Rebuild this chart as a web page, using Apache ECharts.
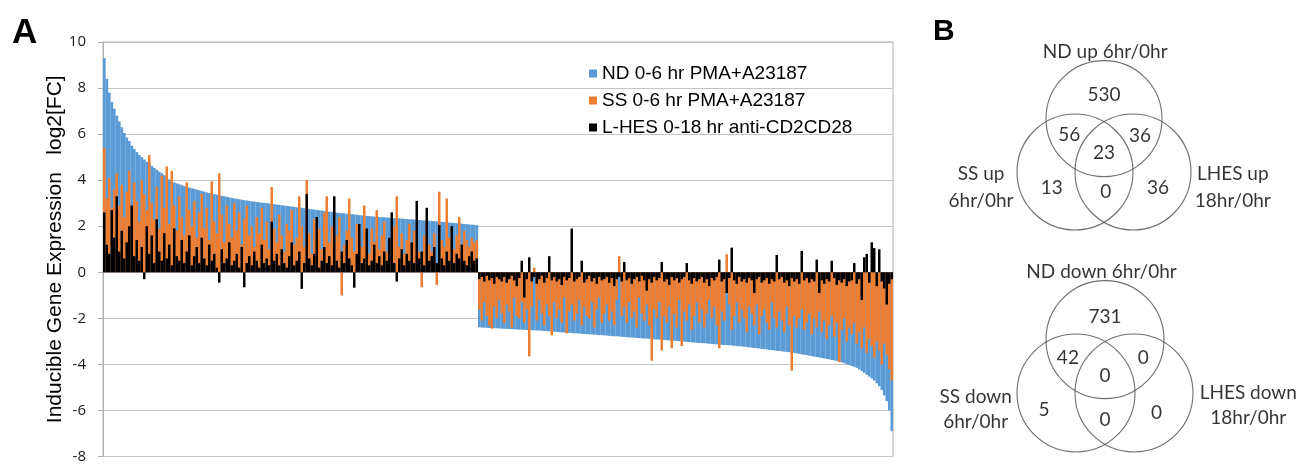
<!DOCTYPE html>
<html><head><meta charset="utf-8">
<script src="https://cdn.jsdelivr.net/npm/echarts@6/dist/echarts.min.js"></script>
<style>html,body{margin:0;padding:0;background:#fff}#c{width:1303px;height:464px}</style>
</head><body><div id="c"></div>
<script>
// ---------- Panel A data (genes sorted by ND fold change; each bar = a group of genes) ----------
const seriesNames = ['ND 0-6 hr PMA+A23187', 'SS 0-6 hr PMA+A23187', 'L-HES 0-18 hr anti-CD2CD28'];
const yTicks = [-8, -6, -4, -2, 0, 2, 4, 6, 8, 10];

const ndUp = [
9.3, 8.4, 7.8, 7.4, 7.1, 6.8, 6.55, 6.3, 6.05, 5.85,
5.7, 5.5, 5.35, 5.22, 5.1, 5.0, 4.9, 4.8, 4.72, 4.62,
4.53, 4.45, 4.37, 4.3, 4.22, 4.12, 4.03, 3.96, 3.9, 3.86,
3.82, 3.78, 3.74, 3.71, 3.68, 3.65, 3.62, 3.59, 3.56, 3.53,
3.5, 3.47, 3.44, 3.42, 3.39, 3.37, 3.34, 3.32, 3.3, 3.28,
3.25, 3.23, 3.21, 3.19, 3.17, 3.15, 3.13, 3.12, 3.1, 3.08,
3.07, 3.05, 3.04, 3.02, 3.01, 3.0, 2.99, 2.97, 2.96, 2.94,
2.93, 2.91, 2.9, 2.88, 2.87, 2.85, 2.84, 2.82, 2.81, 2.8,
2.78, 2.77, 2.75, 2.74, 2.72, 2.71, 2.69, 2.68, 2.66, 2.65,
2.63, 2.62, 2.6, 2.59, 2.58, 2.57, 2.56, 2.54, 2.53, 2.52,
2.51, 2.5, 2.48, 2.47, 2.46, 2.45, 2.44, 2.43, 2.42, 2.41,
2.4, 2.39, 2.39, 2.38, 2.37, 2.36, 2.35, 2.35, 2.34, 2.33,
2.32, 2.31, 2.3, 2.3, 2.29, 2.28, 2.27, 2.26, 2.25, 2.24,
2.24, 2.23, 2.22, 2.21, 2.2, 2.19, 2.18, 2.17, 2.16, 2.15,
2.14, 2.13, 2.12, 2.11, 2.1, 2.09, 2.08, 2.07, 2.06, 2.05
];
const ndDown = [
-2.39, -2.40, -2.40, -2.41, -2.42, -2.42, -2.43, -2.43, -2.44, -2.45,
-2.45, -2.46, -2.46, -2.47, -2.48, -2.48, -2.49, -2.49, -2.50, -2.51,
-2.51, -2.52, -2.52, -2.53, -2.53, -2.54, -2.55, -2.56, -2.56, -2.57,
-2.58, -2.59, -2.60, -2.61, -2.61, -2.62, -2.63, -2.64, -2.65, -2.65,
-2.66, -2.67, -2.68, -2.69, -2.69, -2.70, -2.71, -2.72, -2.73, -2.73,
-2.74, -2.75, -2.76, -2.77, -2.78, -2.78, -2.79, -2.80, -2.81, -2.82,
-2.83, -2.83, -2.84, -2.85, -2.86, -2.87, -2.88, -2.88, -2.89, -2.90,
-2.91, -2.92, -2.92, -2.93, -2.94, -2.95, -2.96, -2.96, -2.97, -2.98,
-2.99, -3.00, -3.01, -3.02, -3.03, -3.04, -3.05, -3.06, -3.07, -3.07,
-3.08, -3.09, -3.10, -3.11, -3.12, -3.13, -3.14, -3.15, -3.16, -3.16,
-3.17, -3.18, -3.19, -3.20, -3.21, -3.22, -3.23, -3.25, -3.26, -3.27,
-3.29, -3.30, -3.31, -3.33, -3.34, -3.35, -3.37, -3.38, -3.39, -3.41,
-3.42, -3.43, -3.45, -3.46, -3.47, -3.48, -3.50, -3.52, -3.54, -3.56,
-3.58, -3.60, -3.62, -3.64, -3.66, -3.68, -3.70, -3.72, -3.74, -3.76,
-3.78, -3.81, -3.83, -3.85, -3.88, -3.91, -3.95, -3.99, -4.03, -4.07,
-4.11, -4.15, -4.22, -4.29, -4.37, -4.45, -4.53, -4.61, -4.70, -4.82,
-4.95, -5.12, -5.35, -5.6, -6.0, -6.9
];
const ssUp = [
5.4, 3.2, 4.1, 2.8, 3.6, 4.3, 2.9, 3.8, 2.4, 3.5,
4.4, 2.6, 3.9, 3.1, 2.2, 4.0, 3.4, 2.7, 5.1, 3.0,
2.3, 3.7, 1.9, 4.2, 2.8, 4.6, 2.1, 4.4, 2.9, 1.8,
3.3, 2.4, 1.6, 3.9, 2.7, 2.0, 3.1, 1.5, 2.6, 3.4,
1.9, 2.8, 1.4, 3.95, 2.2, 1.7, 4.3, 2.5, 1.3, 2.9,
2.1, 1.5, 3.0, 1.8, 2.6, 1.2, 2.3, 2.9, 1.6, 2.0,
1.1, 2.4, 1.7, 2.8, 1.4, 2.2, 1.0, 3.7, 1.9, 1.3,
2.5, 1.6, 0.9, 2.1, 1.8, 2.7, 1.2, 1.5, 3.3, 2.0,
1.1, 4.0, 1.7, 0.8, 2.3, 1.4, 1.9, 1.0, 2.6, 3.3,
1.3, 2.0, 0.9, 1.6, 2.4, -1.0, 1.2, 1.8, 3.2, 1.5,
0.9, 2.1, 1.4, 1.1, 2.9, 1.7, 0.8, 1.9, 1.3, 2.7,
1.0, 1.6, 2.2, 0.9, 1.5, 1.2, 2.0, 3.3, 1.1, 1.7,
0.8, 1.4, 2.1, 1.0, 1.8, 1.3, 0.9, -0.65, 1.6, 2.3,
1.2, 0.9, 1.7, -0.55, 3.5, 1.4, 1.1, 3.2, 1.5, 1.9,
1.0, 1.6, 2.4, 1.2, 1.8, 1.4, 1.1, 1.5, 1.3, 1.4
];
const ssDown = [
-1.6, -2.1, -1.3, -1.9, -2.3, -2.45, -1.5, -2.0, -1.2, -1.8,
-2.2, -1.4, -1.7, -2.4, -1.1, -1.9, -2.0, -1.3, -2.2, -1.6,
-3.65, -1.5, 0.2, -2.1, -1.2, -1.8, -2.3, -1.4, -1.9, -2.74,
-1.3, -2.0, -1.6, -2.2, -1.1, -2.65, -1.7, -1.4, -2.1, -1.8,
-1.2, -2.3, -1.5, -1.9, -2.0, -1.3, -2.4, -1.6, -1.1, -2.2,
-1.8, -1.4, -2.1, -1.7, -2.3, -1.2, 0.7, -1.9, -1.5, -2.2,
-1.3, -2.0, -1.7, -2.4, -1.1, -1.8, -2.1, -1.4, -2.3, -3.84,
-1.6, -2.0, -1.3, -3.4, -1.9, -2.2, -1.5, -3.3, -1.8, -2.4,
-1.2, -3.2, -1.7, -2.1, -1.4, -2.5, -1.9, -1.3, -2.2, -1.6,
-2.4, -1.8, -1.2, -2.0, -1.5, -2.3, -3.3, -1.7, -2.1, 0.78,
-1.4, -2.5, -1.9, -1.3, -2.2, -1.6, -2.0, -2.6, -1.5, -1.8,
-2.3, -1.4, -2.7, -1.9, -1.6, -2.2, -2.5, -1.3, -2.0, -2.4,
-1.7, -2.1, -2.6, -1.5, -2.3, -4.27, -1.9, -2.4, -2.0, -1.6,
-2.5, -2.2, -1.8, -2.7, -2.0, -2.4, -1.7, -2.6, -2.1, -2.9,
-2.3, -1.9, -2.8, -2.2, -3.9, -2.5, -2.0, -3.0, -2.4, -2.7,
-2.2, -3.1, -2.6, -3.3, -2.4, -3.5, -2.9, -3.2, -3.7, -3.0,
-3.4, -4.0, -3.1, -3.6, -4.2, -4.7
];
const lhesUp = [
2.6, 1.2, 0.8, 2.7, 1.5, 3.3, 0.9, 1.8, 0.6, 1.3,
2.0, 2.9, 0.7, 1.4, 0.5, 1.1, -0.3, 2.0, 0.8, 1.6,
0.4, 2.3, 0.9, 0.5, 1.7, 0.6, 1.2, 0.3, 1.9, 0.7,
0.5, 1.4, 0.4, 0.9, 1.6, 0.3, 0.7, 1.1, 0.4, 1.5,
0.6, 0.3, 1.2, 0.5, 0.8, 0.2, -0.45, 1.0, 0.4, 0.6,
1.3, 0.3, 0.5, 0.8, 0.2, 1.1, -0.65, 0.4, 0.7, 0.3,
0.9, 0.5, 0.2, 1.2, 0.4, 0.6, 0.3, 2.2, 0.5, 0.8,
0.3, 1.0, 0.4, 0.2, 0.7, 1.3, 0.3, 0.5, 0.9, -0.72,
0.4, 3.4, 0.6, 0.3, 0.8, 2.4, 0.2, 0.5, 1.1, 0.4,
0.7, 0.3, 3.3, 0.5, 0.2, 0.9, 0.4, 1.4, 0.6, 0.3,
-0.67, 0.8, 2.1, 0.4, 0.6, 1.9, 0.3, 0.5, 1.2, 0.4,
0.7, 0.3, 0.9, 0.5, 1.5, 2.6, 0.4, -0.4, 0.6, 1.0,
0.3, 0.8, 0.5, 1.3, 0.4, 3.1, 0.6, 0.9, 0.3, 2.8,
0.5, 0.7, 1.1, 0.4, 2.05, 0.6, 0.3, 0.9, 0.5, 2.0,
0.4, 0.8, 0.6, 1.2, 0.5, 0.3, 0.7, 0.9, 0.5, 0.6
];
const lhesDown = [
-0.3, -0.2, -0.4, -0.15, -0.35, -0.25, -0.5, -0.2, -0.3, -0.4,
-0.2, -0.45, -0.3, -0.15, -0.35, -0.6, -0.25, 0.5, -1.1, -0.3,
0.65, -0.4, -0.2, -0.5, -0.3, -0.15, -0.45, -0.25, 0.7, -0.35,
-0.2, -0.4, -0.3, -0.55, -0.2, -0.35, -0.25, 1.9, -0.4, -0.3,
-0.2, 0.5, -0.45, -0.3, -0.15, -0.4, -0.25, -0.5, -0.2, -0.35,
-0.3, -0.2, -0.45, -0.25, -0.6, -0.3, -0.2, -0.4, 0.45, -0.35,
-0.25, -0.5, -0.3, -0.2, -0.4, -0.15, -0.35, -0.8, -0.3, -0.45,
-0.2, -0.35, -0.25, 0.45, -0.4, -0.3, -0.55, -0.2, -0.35, -0.25,
-0.45, -0.3, -0.2, 0.4, -0.35, -0.5, -0.25, -0.4, -0.3, -0.2,
-0.45, -0.3, -0.6, -0.25, -0.35, -0.2, 0.55, -0.4, -0.3, -0.9,
-0.25, 1.07, -0.35, -0.5, -0.2, -0.4, -0.3, -0.45, -0.25, -0.35,
-0.9, -0.3, -0.2, -0.45, -0.35, -0.25, -0.5, -0.3, -0.4, 0.75,
-0.3, -0.2, -0.45, -0.35, -0.6, -0.25, -0.4, -0.3, -0.5, 0.93,
-0.35, -0.25, -0.45, -0.3, -0.4, 0.55, -0.9, -0.35, -0.5, -0.3,
-0.4, 0.5, -0.25, -0.55, -0.35, -0.45, -0.3, -0.6, -0.4, -0.35,
0.4, -0.5, -0.3, -1.2, 0.65, 0.8, -0.45, 1.3, 1.05, -0.6,
1.0, -0.4, -0.7, -1.4, -0.5, -0.3
];

// ---------- Panel B data (Venn counts) ----------
// region order: ND only, ND∩SS, ND∩LHES, all three, SS only, SS∩LHES, LHES only
const vennUpCounts = [530, 56, 36, 23, 13, 0, 36];
const vennDownCounts = [731, 42, 0, 0, 5, 0, 0];
const vennUpSets = ['ND up 6hr/0hr', 'SS up\n6hr/0hr', 'LHES up\n18hr/0hr'];
const vennDownSets = ['ND down 6hr/0hr', 'SS down\n6hr/0hr', 'LHES down\n18hr/0hr'];

// ---------- layout (Venn units: circle radius = 1) ----------
const circleCenters = [[0, 0.92], [-0.5, 0], [0.5, 0]];
const upRegionPos = [[0, 1.33], [-0.6, 0.64], [0.62, 0.62], [0, 0.33], [-0.9, -0.28], [0.03, -0.35], [0.93, -0.28]];
const downRegionPos = [[0, 1.31], [-0.64, 0.6], [0.66, 0.6], [0, 0.29], [-1.05, -0.29], [0, -0.47], [0.89, -0.34]];
const upSetPos = [[0.02, 2.07], [-2.12, -0.26], [2.22, -0.27]];
const downSetPos = [[-0.06, 2.09], [-2.23, -0.29], [2.47, -0.21]];

const ND = ndUp.concat(ndDown);
const SS = ssUp.concat(ssDown);
const LHES = lhesUp.concat(lhesDown);
const categories = ND.map((_, i) => String(i + 1));

const chart = echarts.init(document.getElementById('c'), null, {renderer: 'canvas'});
const vennFont = 'Lato';
function vennSeries(idx, counts, regionPos, sets, setPos, size, lh) {
  return [
    {
      type: 'scatter', xAxisIndex: idx, yAxisIndex: idx, silent: true,
      symbol: 'circle', symbolSize: size,
      itemStyle: {color: 'rgba(0,0,0,0)', borderColor: '#4a4a4a', borderWidth: 1.1},
      data: circleCenters
    },
    {
      type: 'scatter', xAxisIndex: idx, yAxisIndex: idx, silent: true, symbolSize: 1,
      itemStyle: {color: 'rgba(0,0,0,0)'},
      label: {show: true, position: 'inside', formatter: '{b}', fontFamily: vennFont, fontSize: 19, color: '#000'},
      data: counts.map((c, k) => ({name: String(c), value: regionPos[k]}))
    },
    {
      type: 'scatter', xAxisIndex: idx, yAxisIndex: idx, silent: true, symbolSize: 1,
      itemStyle: {color: 'rgba(0,0,0,0)'},
      label: {show: true, position: 'inside', formatter: '{b}', fontFamily: vennFont, fontSize: 19, lineHeight: lh, color: '#000', align: 'center'},
      data: sets.map((s, k) => ({name: s, value: setPos[k]}))
    }
  ];
}

const option = {
  animation: false,
  backgroundColor: '#fff',
  title: [
    {text: 'A', left: 12, top: 16, padding: 0, textStyle: {fontFamily: 'Liberation Sans', fontSize: 35, fontWeight: 'bold', color: '#000'}},
    {text: 'B', left: 933, top: 17, padding: 0, textStyle: {fontFamily: 'Liberation Sans', fontSize: 30, fontWeight: 'bold', color: '#000'}}
  ],
  legend: {
    data: seriesNames, orient: 'vertical', left: 584, top: 59,
    itemWidth: 8, itemHeight: 8, itemGap: 8, icon: 'rect',
    textStyle: {fontFamily: 'Liberation Sans', fontSize: 19, color: '#000'}
  },
  grid: [
    {left: 103, top: 42, width: 790, height: 416, show: true, borderColor: '#b0b0b0', borderWidth: 1},
    {left: 959, top: 44.4, width: 290, height: 197.2},
    {left: 960, top: 265.4, width: 290, height: 197.2}
  ],
  xAxis: [
    {type: 'category', data: categories, gridIndex: 0, boundaryGap: true,
     axisLine: {show: false}, axisTick: {show: false}, axisLabel: {show: false}, splitLine: {show: false}},
    {type: 'value', gridIndex: 1, min: -2.5, max: 2.5, show: false},
    {type: 'value', gridIndex: 2, min: -2.5, max: 2.5, show: false}
  ],
  yAxis: [
    {type: 'value', gridIndex: 0, min: yTicks[0], max: yTicks[yTicks.length - 1], interval: 2,
     name: 'Inducible Gene Expression   log2[FC]', nameLocation: 'middle', nameGap: 37, nameRotate: 90,
     nameMoveOverlap: false,
     nameTextStyle: {fontFamily: 'Liberation Sans', fontSize: 21, color: '#000'},
     axisLine: {show: true, lineStyle: {color: '#b0b0b0'}},
     axisTick: {show: true, length: 5, lineStyle: {color: '#b0b0b0'}},
     axisLabel: {fontFamily: 'Open Sans', fontSize: 15, color: '#1a1a1a', margin: 17},
     splitLine: {show: true, lineStyle: {color: '#c4c4c4', width: 1}}},
    {type: 'value', gridIndex: 1, min: -1.2, max: 2.2, show: false},
    {type: 'value', gridIndex: 2, min: -1.2, max: 2.2, show: false}
  ],
  series: [
    {name: seriesNames[0], type: 'bar', data: ND, barGap: '-100%', barCategoryGap: '0%', barWidth: '106%',
     itemStyle: {color: '#5B9BD5'}, silent: true},
    {name: seriesNames[1], type: 'bar', data: SS, barGap: '-100%', barCategoryGap: '0%', barWidth: '100%',
     itemStyle: {color: '#ED7D31'}, silent: true},
    {name: seriesNames[2], type: 'bar', data: LHES, barGap: '-100%', barCategoryGap: '0%', barWidth: '100%',
     itemStyle: {color: '#000000'}, silent: true}
  ].concat(
    vennSeries(1, vennUpCounts, upRegionPos, vennUpSets, upSetPos, 116, 27),
    vennSeries(2, vennDownCounts, downRegionPos, vennDownSets, downSetPos, 118, 25)
  )
};
chart.setOption(option);
</script></body></html>
